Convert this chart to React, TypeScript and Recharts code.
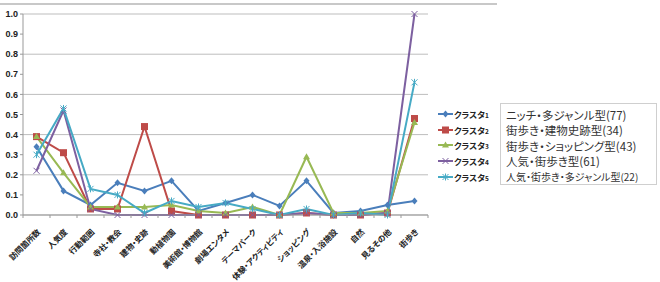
import React from "react";
import { CartesianGrid, Line, LineChart, XAxis, YAxis } from "recharts";

const categories = [
  "訪問箇所数",
  "人気度",
  "行動範囲",
  "寺社・教会",
  "建物・史跡",
  "動植物園",
  "美術館・博物館",
  "劇場エンタメ",
  "テーマパーク",
  "体験・アクティビティ",
  "ショッピング",
  "温泉・入浴施設",
  "自然",
  "見るその他",
  "街歩き",
];

const cluster1 = [0.34, 0.12, 0.05, 0.16, 0.12, 0.17, 0.02, 0.06, 0.1, 0.045, 0.17, 0.01, 0.02, 0.05, 0.07];
const cluster2 = [0.39, 0.31, 0.03, 0.03, 0.44, 0.02, 0.0, 0.0, 0.0, 0.0, 0.01, 0.0, 0.0, 0.01, 0.48];
const cluster3 = [0.39, 0.21, 0.04, 0.04, 0.04, 0.05, 0.02, 0.01, 0.04, 0.0, 0.29, 0.01, 0.01, 0.02, 0.46];
const cluster4 = [0.22, 0.52, 0.03, 0.0, 0.0, 0.0, 0.0, 0.0, 0.0, 0.0, 0.01, 0.0, 0.0, 0.01, 1.0];
const cluster5 = [0.3, 0.53, 0.13, 0.1, 0.01, 0.07, 0.04, 0.06, 0.03, 0.0, 0.03, 0.0, 0.01, 0.0, 0.66];

const seriesNames = ["クラスタ1", "クラスタ2", "クラスタ3", "クラスタ4", "クラスタ5"];
const descriptions = [
  "ニッチ・多ジャンル型(77)",
  "街歩き・建物史跡型(34)",
  "街歩き・ショッピング型(43)",
  "人気・街歩き型(61)",
  "人気・街歩き・多ジャンル型(22)",
];
const yTicks = [0, 0.1, 0.2, 0.3, 0.4, 0.5, 0.6, 0.7, 0.8, 0.9, 1.0];

const colors = ["#4A7EBB", "#BE4B48", "#98B954", "#7D60A0", "#46AAC5"];
const shapes = ["diamond", "square", "triangle", "cross", "star"];

const data = categories.map((name, i) => ({
  name,
  c1: cluster1[i],
  c2: cluster2[i],
  c3: cluster3[i],
  c4: cluster4[i],
  c5: cluster5[i],
}));

const keys = ["c1", "c2", "c3", "c4", "c5"];
const jp = "'Noto Sans CJK JP', sans-serif";

function Marker({ cx, cy, shape, color }: any) {
  if (cx == null || cy == null) return null;
  if (shape === "diamond")
    return <polygon points={`${cx},${cy - 3.5} ${cx + 3},${cy} ${cx},${cy + 3.5} ${cx - 3},${cy}`} fill={color} />;
  if (shape === "square") return <rect x={cx - 3.5} y={cy - 3.5} width={7} height={7} fill={color} />;
  if (shape === "triangle")
    return <polygon points={`${cx},${cy - 3.5} ${cx + 3.5},${cy + 2.5} ${cx - 3.5},${cy + 2.5}`} fill={color} />;
  if (shape === "cross")
    return (
      <g stroke={color} strokeWidth={1}>
        <line x1={cx - 3} y1={cy - 3} x2={cx + 3} y2={cy + 3} />
        <line x1={cx - 3} y1={cy + 3} x2={cx + 3} y2={cy - 3} />
      </g>
    );
  return (
    <g stroke={color} strokeWidth={1}>
      <line x1={cx - 3} y1={cy - 3} x2={cx + 3} y2={cy + 3} />
      <line x1={cx - 3} y1={cy + 3} x2={cx + 3} y2={cy - 3} />
      <line x1={cx} y1={cy - 3.5} x2={cx} y2={cy + 3.5} />
    </g>
  );
}

function XTick({ x, y, payload, index, visibleTicksCount }: any) {
  const ax = x + 2;
  const ay = y + 10;
  const off = payload?.offset ?? 0;
  const ty = y - 5;
  return (
    <g>
      <line x1={x - off} y1={ty} x2={x - off} y2={ty + 3} stroke="#999" />
      {index === visibleTicksCount - 1 && <line x1={x + off} y1={ty} x2={x + off} y2={ty + 3} stroke="#999" />}
      <text
        x={ax}
        y={ay}
        transform={`rotate(-45 ${ax} ${ay})`}
        textAnchor="end"
        dominantBaseline="central"
        fontSize={8}
        fontWeight="bold"
        fill="#222"
        fontFamily={jp}
        style={{ fontFeatureSettings: '"palt"' }}
      >
        {payload.value}
      </text>
    </g>
  );
}

export default function App() {
  return (
    <div style={{ position: "absolute", left: 0, top: 0, width: 660, height: 282, background: "#fff" }}>
      <div style={{ position: "absolute", left: 0, top: 3, width: 497, height: 1.5, background: "#c8c8c8" }} />
      <LineChart width={440} height={282} data={data} margin={{ top: 14, right: 12, left: 0, bottom: 0 }}>
        <CartesianGrid vertical={false} stroke="#bdbdbd" />
        <XAxis
          dataKey="name"
          scale="band"
          interval={0}
          height={67}
          tick={<XTick />}
          tickLine={false}
          tickSize={3}
          axisLine={{ stroke: "#999" }}
        />
        <YAxis
          domain={[0, 1]}
          ticks={yTicks}
          width={23}
          tickSize={3}
          tickLine={{ stroke: "#999" }}
          axisLine={{ stroke: "#999" }}
          tickFormatter={(v: number) => v.toFixed(1)}
          tick={{ fontSize: 9, fontWeight: "bold", fill: "#222", fontFamily: "Arial, sans-serif" }}
        />
        {keys.map((k, i) => (
          <Line
            key={k}
            dataKey={k}
            name={seriesNames[i]}
            stroke={colors[i]}
            strokeWidth={2}
            dot={(p: any) => <Marker key={`${k}-${p.index}`} cx={p.cx} cy={p.cy} shape={shapes[i]} color={colors[i]} />}
            activeDot={false}
            isAnimationActive={false}
          />
        ))}
      </LineChart>
      <div style={{ position: "absolute", left: 438, top: 106, fontFamily: jp }}>
        {seriesNames.map((n, i) => (
          <div key={n} style={{ display: "flex", alignItems: "center", height: 15.7 }}>
            <svg width={15} height={10}>
              <line x1={0} y1={5} x2={15} y2={5} stroke={colors[i]} strokeWidth={2} />
              <Marker cx={7.5} cy={5} shape={shapes[i]} color={colors[i]} />
            </svg>
            <span style={{ fontSize: 8.5, fontWeight: "bold", color: "#222", marginLeft: 1, fontFeatureSettings: '"palt"' }}>
              {n.slice(0, 4)}
              <span style={{ fontSize: 6.5 }}>{n.slice(4)}</span>
            </span>
          </div>
        ))}
      </div>
      <div
        style={{
          position: "absolute",
          left: 500,
          top: 103,
          width: 157,
          height: 82,
          border: "1px solid #cfcfcf",
          boxSizing: "border-box",
          padding: "4px 0 0 5px",
          fontFamily: jp,
          fontFeatureSettings: '"palt"',
          color: "#333",
        }}
      >
        {descriptions.map((d, i) => (
          <div
            key={d}
            style={{
              fontSize: i === 4 ? 10 : 11.5,
              lineHeight: "15.3px",
              whiteSpace: "nowrap",
            }}
          >
            {d}
          </div>
        ))}
      </div>
    </div>
  );
}
